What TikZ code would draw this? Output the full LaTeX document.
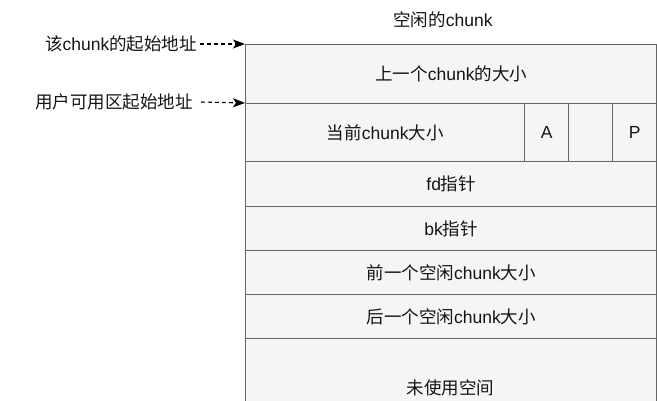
\documentclass[tikz,border=0pt]{standalone}
\usepackage{fontspec}
\setmainfont{Liberation Sans}
\newfontfamily\zhfont{Noto Sans CJK SC}
\newcommand{\zh}[1]{{\zhfont #1}}
\usetikzlibrary{arrows.meta}
\definecolor{cellfill}{HTML}{F5F5F5}
\definecolor{cellline}{HTML}{666666}
\definecolor{txt}{HTML}{141414}
\tikzset{
  cell/.style={draw=cellline, fill=cellfill, line width=1.4pt, inner sep=0pt, anchor=north west, text=txt, font=\fontsize{17.5}{20}\selectfont},
  lbl/.style={inner sep=0pt, text=txt, font=\fontsize{17.5}{20}\selectfont},
  ptr/.style={draw=black, line width=1.1pt, dash pattern=on 4pt off 3pt, -{Stealth[length=12pt,width=9pt,inset=3pt]}}
}
\begin{document}
\begin{tikzpicture}[x=1pt,y=-1pt]
\useasboundingbox (0,0) rectangle (657,400);
\clip (0,0) rectangle (657,400);
\node[cell, minimum width=411pt, minimum height=100pt] (r7) at (245,338) {};
\node[lbl, anchor=center] (r7t) at (450.5,388) {\zh{未使用空间}};
\node[cell, minimum width=411pt, minimum height=44pt] (r6) at (245,294) {\zh{后一个空闲}chunk\zh{大小}};
\node[cell, minimum width=411pt, minimum height=44pt] (r5) at (245,250) {\zh{前一个空闲}chunk\zh{大小}};
\node[cell, minimum width=411pt, minimum height=44pt] (r4) at (245,206) {bk\zh{指针}};
\node[cell, minimum width=411pt, minimum height=45pt] (r3) at (245,161) {fd\zh{指针}};
\node[cell, minimum width=279pt, minimum height=58pt] (r2) at (245,103) {\zh{当前}chunk\zh{大小}};
\node[cell, minimum width=44pt, minimum height=58pt] (ra) at (524,103) {A};
\node[cell, minimum width=44pt, minimum height=58pt] (rb) at (568,103) {};
\node[cell, minimum width=44pt, minimum height=58pt] (rp) at (612,103) {P};
\node[cell, minimum width=411pt, minimum height=59pt] (r1) at (245,44) {\zh{上一个}chunk\zh{的大小}};
\node[lbl] (title) at (443,20) {\zh{空闲的}chunk};
\node[lbl, anchor=east] (lab1) at (197,44) {\zh{该}chunk\zh{的起始地址}};
\node[lbl, anchor=east] (lab2) at (193,102) {\zh{用户可用区起始地址}};
\coordinate (s1) at (200,44);
\coordinate (s2) at (201,102);
\draw[ptr] (s1) -- (r1.north west);
\draw[ptr] (s2) -- (r2.north west);
\end{tikzpicture}
\end{document}
